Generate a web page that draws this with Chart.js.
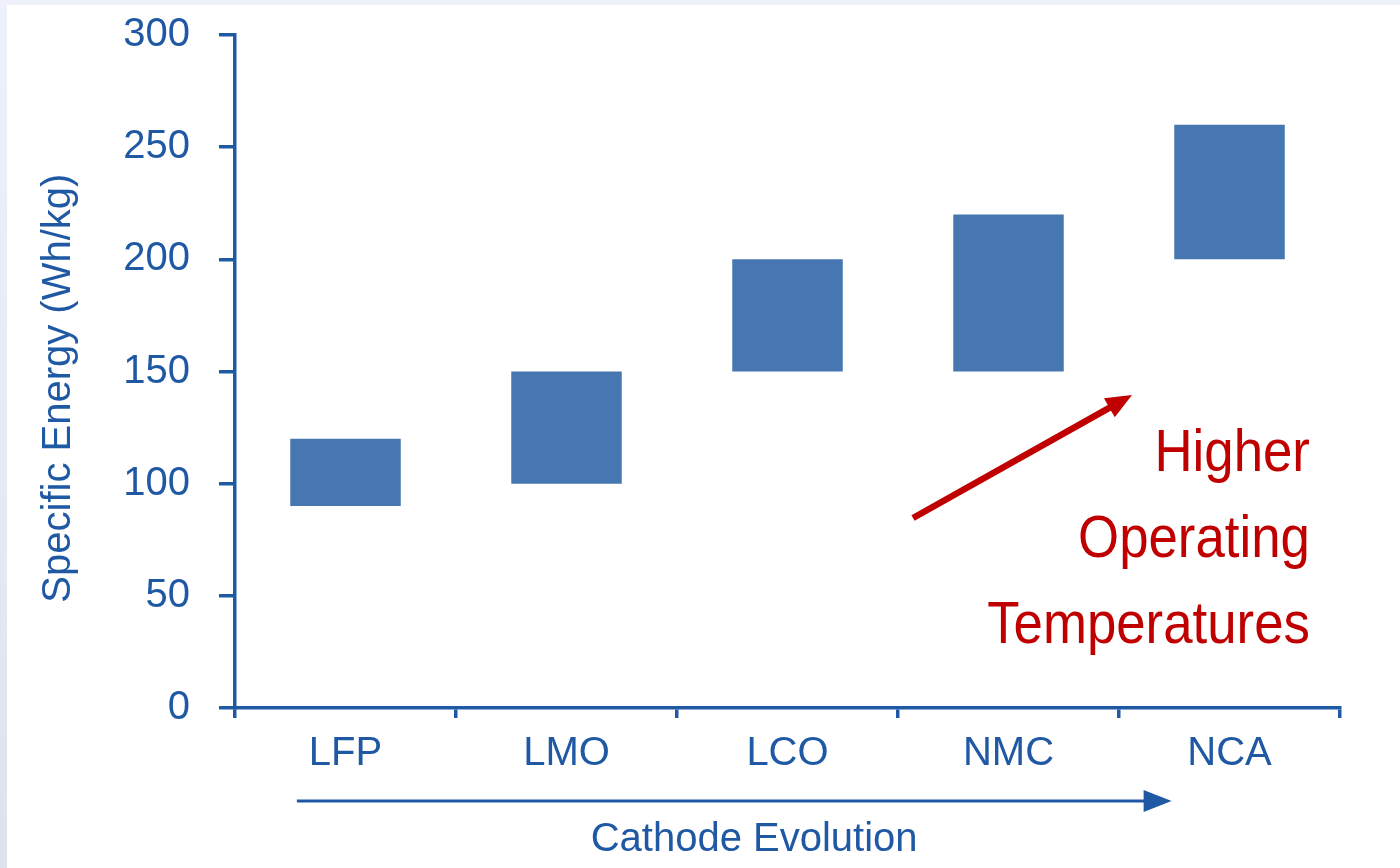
<!DOCTYPE html>
<html>
<head>
<meta charset="utf-8">
<script src="https://cdn.jsdelivr.net/npm/chart.js@4.4.1/dist/chart.umd.min.js"></script>
<style>
  html, body { margin: 0; padding: 0; width: 1400px; height: 868px; overflow: hidden;
    background: linear-gradient(180deg, #eef1fa 0%, #e6e9f4 60%, #dfe2ec 100%); }
  #wrap { position: absolute; left: 7px; top: 5px; width: 1393px; height: 863px; background: #ffffff; }
  canvas { display: block; }
</style>
</head>
<body>
<div id="wrap"><canvas id="c" width="1393" height="863"></canvas></div>
<script>
// ---- data ----
const categories = ['LFP', 'LMO', 'LCO', 'NMC', 'NCA'];
const energyLow  = [90, 100, 150, 150, 200];
const energyHigh = [120, 150, 200, 220, 260];
const yTickValues = [0, 50, 100, 150, 200, 250, 300];
const yAxisTitle = 'Specific Energy (Wh/kg)';
const xAxisTitle = 'Cathode Evolution';
const noteLines = ['Higher', 'Operating', 'Temperatures'];

// ---- style ----
const AXIS_BLUE = '#1f58a3';
const BAR_BLUE = '#4677b0';
const RED = '#c00000';
const FONT = '"Liberation Sans", Arial, Helvetica, sans-serif';

const floatingData = categories.map((c, i) => [energyLow[i], energyHigh[i]]);

const annotationPlugin = {
  id: 'annotations',
  afterDraw(chart) {
    const ctx = chart.ctx;
    const xs = chart.scales.x, ys = chart.scales.y;

    // Cathode evolution arrow (below category labels)
    const ay = xs.top + 93;
    const ax0 = xs.getPixelForValue(-0.22);
    const ax1 = xs.getPixelForValue(3.738);
    ctx.save();
    ctx.strokeStyle = AXIS_BLUE;
    ctx.fillStyle = AXIS_BLUE;
    ctx.lineWidth = 3;
    ctx.beginPath();
    ctx.moveTo(ax0, ay);
    ctx.lineTo(ax1 - 20, ay);
    ctx.stroke();
    ctx.beginPath();
    ctx.moveTo(ax1, ay);
    ctx.lineTo(ax1 - 28, ay - 11);
    ctx.lineTo(ax1 - 28, ay + 11);
    ctx.closePath();
    ctx.fill();
    ctx.restore();

    // Red arrow
    const tx = xs.getPixelForValue(2.568), ty = ys.getPixelForValue(84.7);
    const hx = xs.getPixelForValue(3.559), hy = ys.getPixelForValue(139.5);
    const ang = Math.atan2(hy - ty, hx - tx);
    const headLen = 26, headHalf = 11;
    const bx = hx - headLen * Math.cos(ang), by = hy - headLen * Math.sin(ang);
    ctx.save();
    ctx.strokeStyle = RED;
    ctx.fillStyle = RED;
    ctx.lineWidth = 6.5;
    ctx.beginPath();
    ctx.moveTo(tx, ty);
    ctx.lineTo(bx + 4 * Math.cos(ang), by + 4 * Math.sin(ang));
    ctx.stroke();
    ctx.beginPath();
    ctx.moveTo(hx, hy);
    ctx.lineTo(bx + headHalf * Math.sin(ang), by - headHalf * Math.cos(ang));
    ctx.lineTo(bx - headHalf * Math.sin(ang), by + headHalf * Math.cos(ang));
    ctx.closePath();
    ctx.fill();
    ctx.restore();

    // Red note text (slightly condensed)
    const rx = xs.getPixelForValue(4.364);
    const ry = ys.getPixelForValue(105.6);
    ctx.save();
    ctx.fillStyle = RED;
    ctx.font = '60px ' + FONT;
    ctx.textAlign = 'right';
    ctx.textBaseline = 'alphabetic';
    ctx.translate(rx, ry);
    ctx.scale(0.88, 1);
    noteLines.forEach((t, i) => ctx.fillText(t, 0, i * 86));
    ctx.restore();
  }
};

new Chart(document.getElementById('c'), {
  type: 'bar',
  data: {
    labels: categories,
    datasets: [{
      label: 'Specific Energy',
      data: floatingData,
      backgroundColor: BAR_BLUE,
      borderWidth: 0,
      barPercentage: 0.5,
      categoryPercentage: 1.0
    }]
  },
  options: {
    responsive: false,
    animation: false,
    devicePixelRatio: 1,
    layout: { padding: { left: 0, right: 60, top: 30, bottom: 0 } },
    plugins: { legend: { display: false }, tooltip: { enabled: false } },
    scales: {
      x: {
        offset: true,
        afterFit(scale) { scale.height = 160; scale.paddingLeft = 0; scale.paddingRight = 0; },
        grid: { display: true, offset: true, drawOnChartArea: false, drawTicks: true,
                tickLength: 10, color: AXIS_BLUE, lineWidth: 3.5 },
        border: { display: true, color: AXIS_BLUE, width: 3.5 },
        ticks: { color: AXIS_BLUE, padding: 12, font: { family: FONT, size: 40 }, maxRotation: 0 },
        title: { display: true, text: xAxisTitle + '      ', color: AXIS_BLUE,
                 font: { family: FONT, size: 40 }, padding: { top: 0, bottom: 4 } }
      },
      y: {
        min: yTickValues[0],
        max: yTickValues[yTickValues.length - 1],
        afterFit(scale) { scale.width = 228; scale.paddingTop = 0; scale.paddingBottom = 0; },
        afterBuildTicks(scale) { scale.ticks = yTickValues.map(v => ({ value: v })); },
        grid: { display: true, drawOnChartArea: false, drawTicks: true,
                tickLength: 16, color: AXIS_BLUE, lineWidth: 3.5 },
        border: { display: true, color: AXIS_BLUE, width: 3.5 },
        ticks: { color: AXIS_BLUE, padding: 29, font: { family: FONT, size: 40 } },
        title: { display: true, text: yAxisTitle + '   ', color: AXIS_BLUE,
                 font: { family: FONT, size: 40 }, padding: { top: 28, bottom: 0 } }
      }
    }
  },
  plugins: [annotationPlugin]
});
</script>
</body>
</html>
